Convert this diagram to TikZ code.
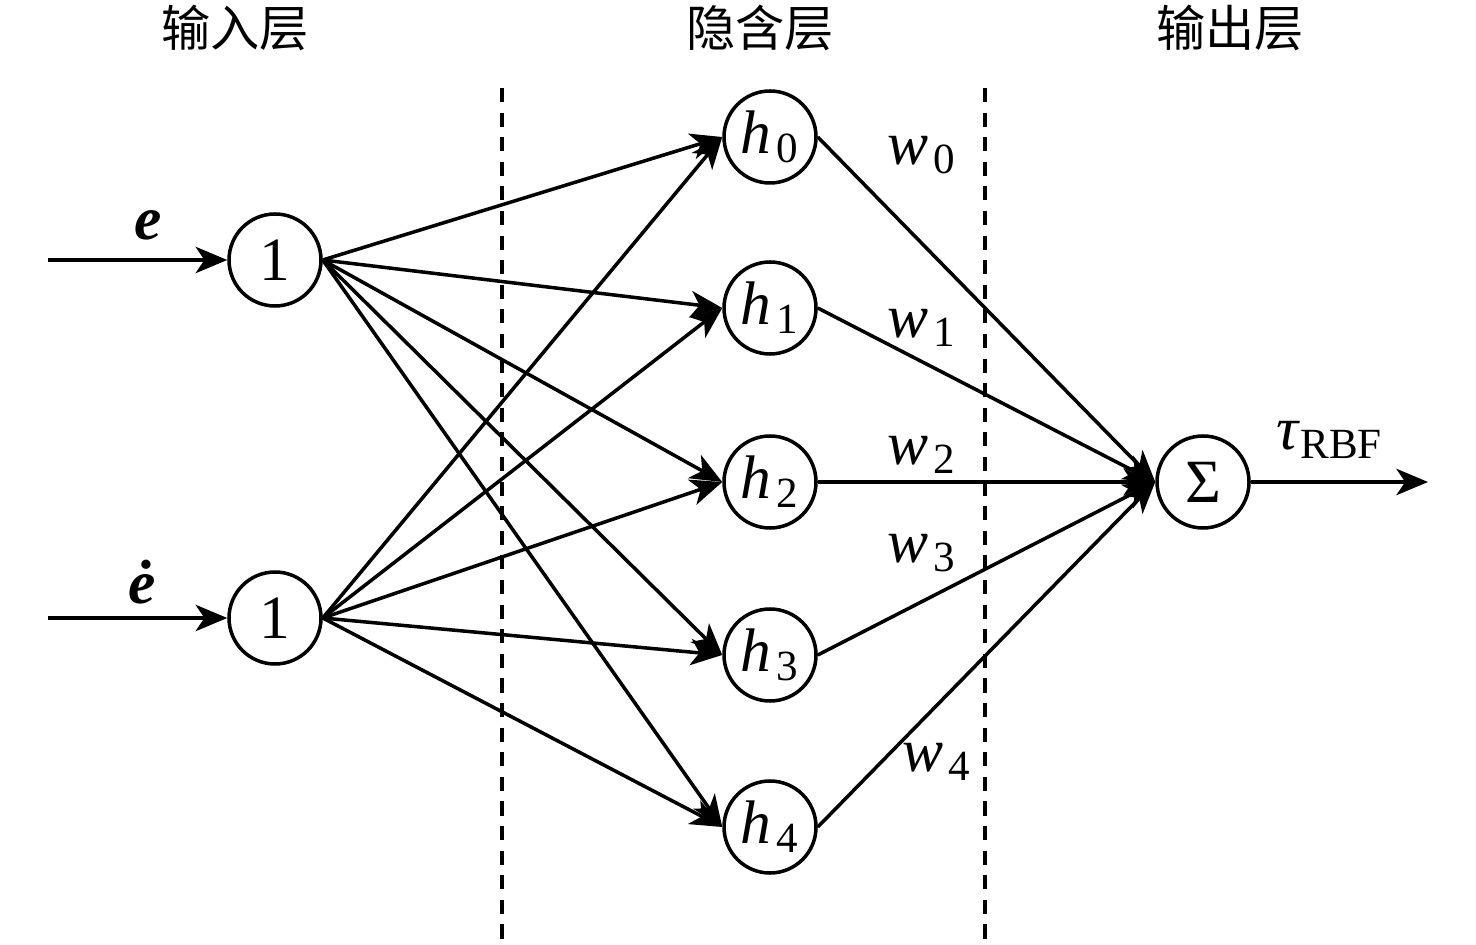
\documentclass[tikz,border=0pt]{standalone}
\usepackage{amsmath}
\usepackage{fontspec}
\setmainfont{Liberation Serif}
\newfontfamily\cjk{Noto Sans CJK SC}
\usetikzlibrary{arrows.meta}

% italic letter with a subscript, in the text font
\newcommand{\letsub}[2]{\textit{#1}\kern1.5pt$_{\text{#2}}$}

\tikzset{
    neuron/.style={draw=black, line width=1pt, circle, minimum size=0.92cm, inner sep=0pt, font=\fontsize{17.5}{20}\selectfont},
    link/.style={black, line width=1pt, -{Stealth[length=9pt, width=7.5pt, inset=2.5pt]}},
    layer/.style={font=\cjk\fontsize{14}{16}\selectfont},
    wlabel/.style={inner sep=0pt, font=\fontsize{17.5}{20}\selectfont}
}

\begin{document}
\begin{tikzpicture}
        \useasboundingbox (0,0) rectangle (14.76,9.44);

        % dashed separators
        \draw[black, line width=0.9pt, dash pattern=on 4pt off 3pt] (5.02,8.56) -- (5.02,0);
        \draw[black, line width=0.9pt, dash pattern=on 4pt off 3pt] (9.85,8.56) -- (9.85,0);

        \node[layer] (tin) at (2.35,9.16) {输入层};
        \node[layer] (thid) at (7.60,9.16) {隐含层};
        \node[layer] (tout) at (12.30,9.16) {输出层};

        \node[neuron] (x1) at (2.75,6.84) {1};
        \node[neuron] (x2) at (2.75,3.26) {1};

        \node[neuron] (h0) at (7.70,8.07) {\letsub{h}{0}};
        \node[neuron] (h1) at (7.70,6.36) {\letsub{h}{1}};
        \node[neuron] (h2) at (7.70,4.62) {\letsub{h}{2}};
        \node[neuron] (h3) at (7.70,2.89) {\letsub{h}{3}};
        \node[neuron] (h4) at (7.70,1.17) {\letsub{h}{4}};

        \node[neuron] (sum) at (12.03,4.62) {Σ};

        \coordinate (e1) at (0.48,6.84);
        \coordinate (e2) at (0.48,3.26);
        \coordinate (y) at (14.28,4.62);

        \draw[link] (e1) -- (x1.west);
        \draw[link] (e2) -- (x2.west);
        \draw[link] (sum.east) -- (y);

        \draw[link] (x1.east) -- (h0.west);
        \draw[link] (x1.east) -- (h1.west);
        \draw[link] (x1.east) -- (h2.west);
        \draw[link] (x1.east) -- (h3.west);
        \draw[link] (x1.east) -- (h4.west);
        \draw[link] (x2.east) -- (h0.west);
        \draw[link] (x2.east) -- (h1.west);
        \draw[link] (x2.east) -- (h2.west);
        \draw[link] (x2.east) -- (h3.west);
        \draw[link] (x2.east) -- (h4.west);

        \draw[link] (h0.east) -- (sum.west);
        \draw[link] (h1.east) -- (sum.west);
        \draw[link] (h2.east) -- (sum.west);
        \draw[link] (h3.east) -- (sum.west);
        \draw[link] (h4.east) -- (sum.west);

        \node[wlabel] (le) at (1.48,7.19) {\textbf{\textit{e}}};
        \node[wlabel] (led) at (1.42,3.62) {\textbf{\textit{\.{e}}}};
        \node[wlabel] (w0) at (9.22,7.89) {\letsub{w}{0}};
        \node[wlabel] (w1) at (9.22,6.16) {\letsub{w}{1}};
        \node[wlabel] (w2) at (9.22,4.89) {\letsub{w}{2}};
        \node[wlabel] (w3) at (9.22,3.91) {\letsub{w}{3}};
        \node[wlabel] (w4) at (9.37,1.82) {\letsub{w}{4}};
        \node[wlabel] (tau) at (13.30,5.04) {\textit{τ}$_{\text{RBF}}$};
    \end{tikzpicture}
\end{document}
